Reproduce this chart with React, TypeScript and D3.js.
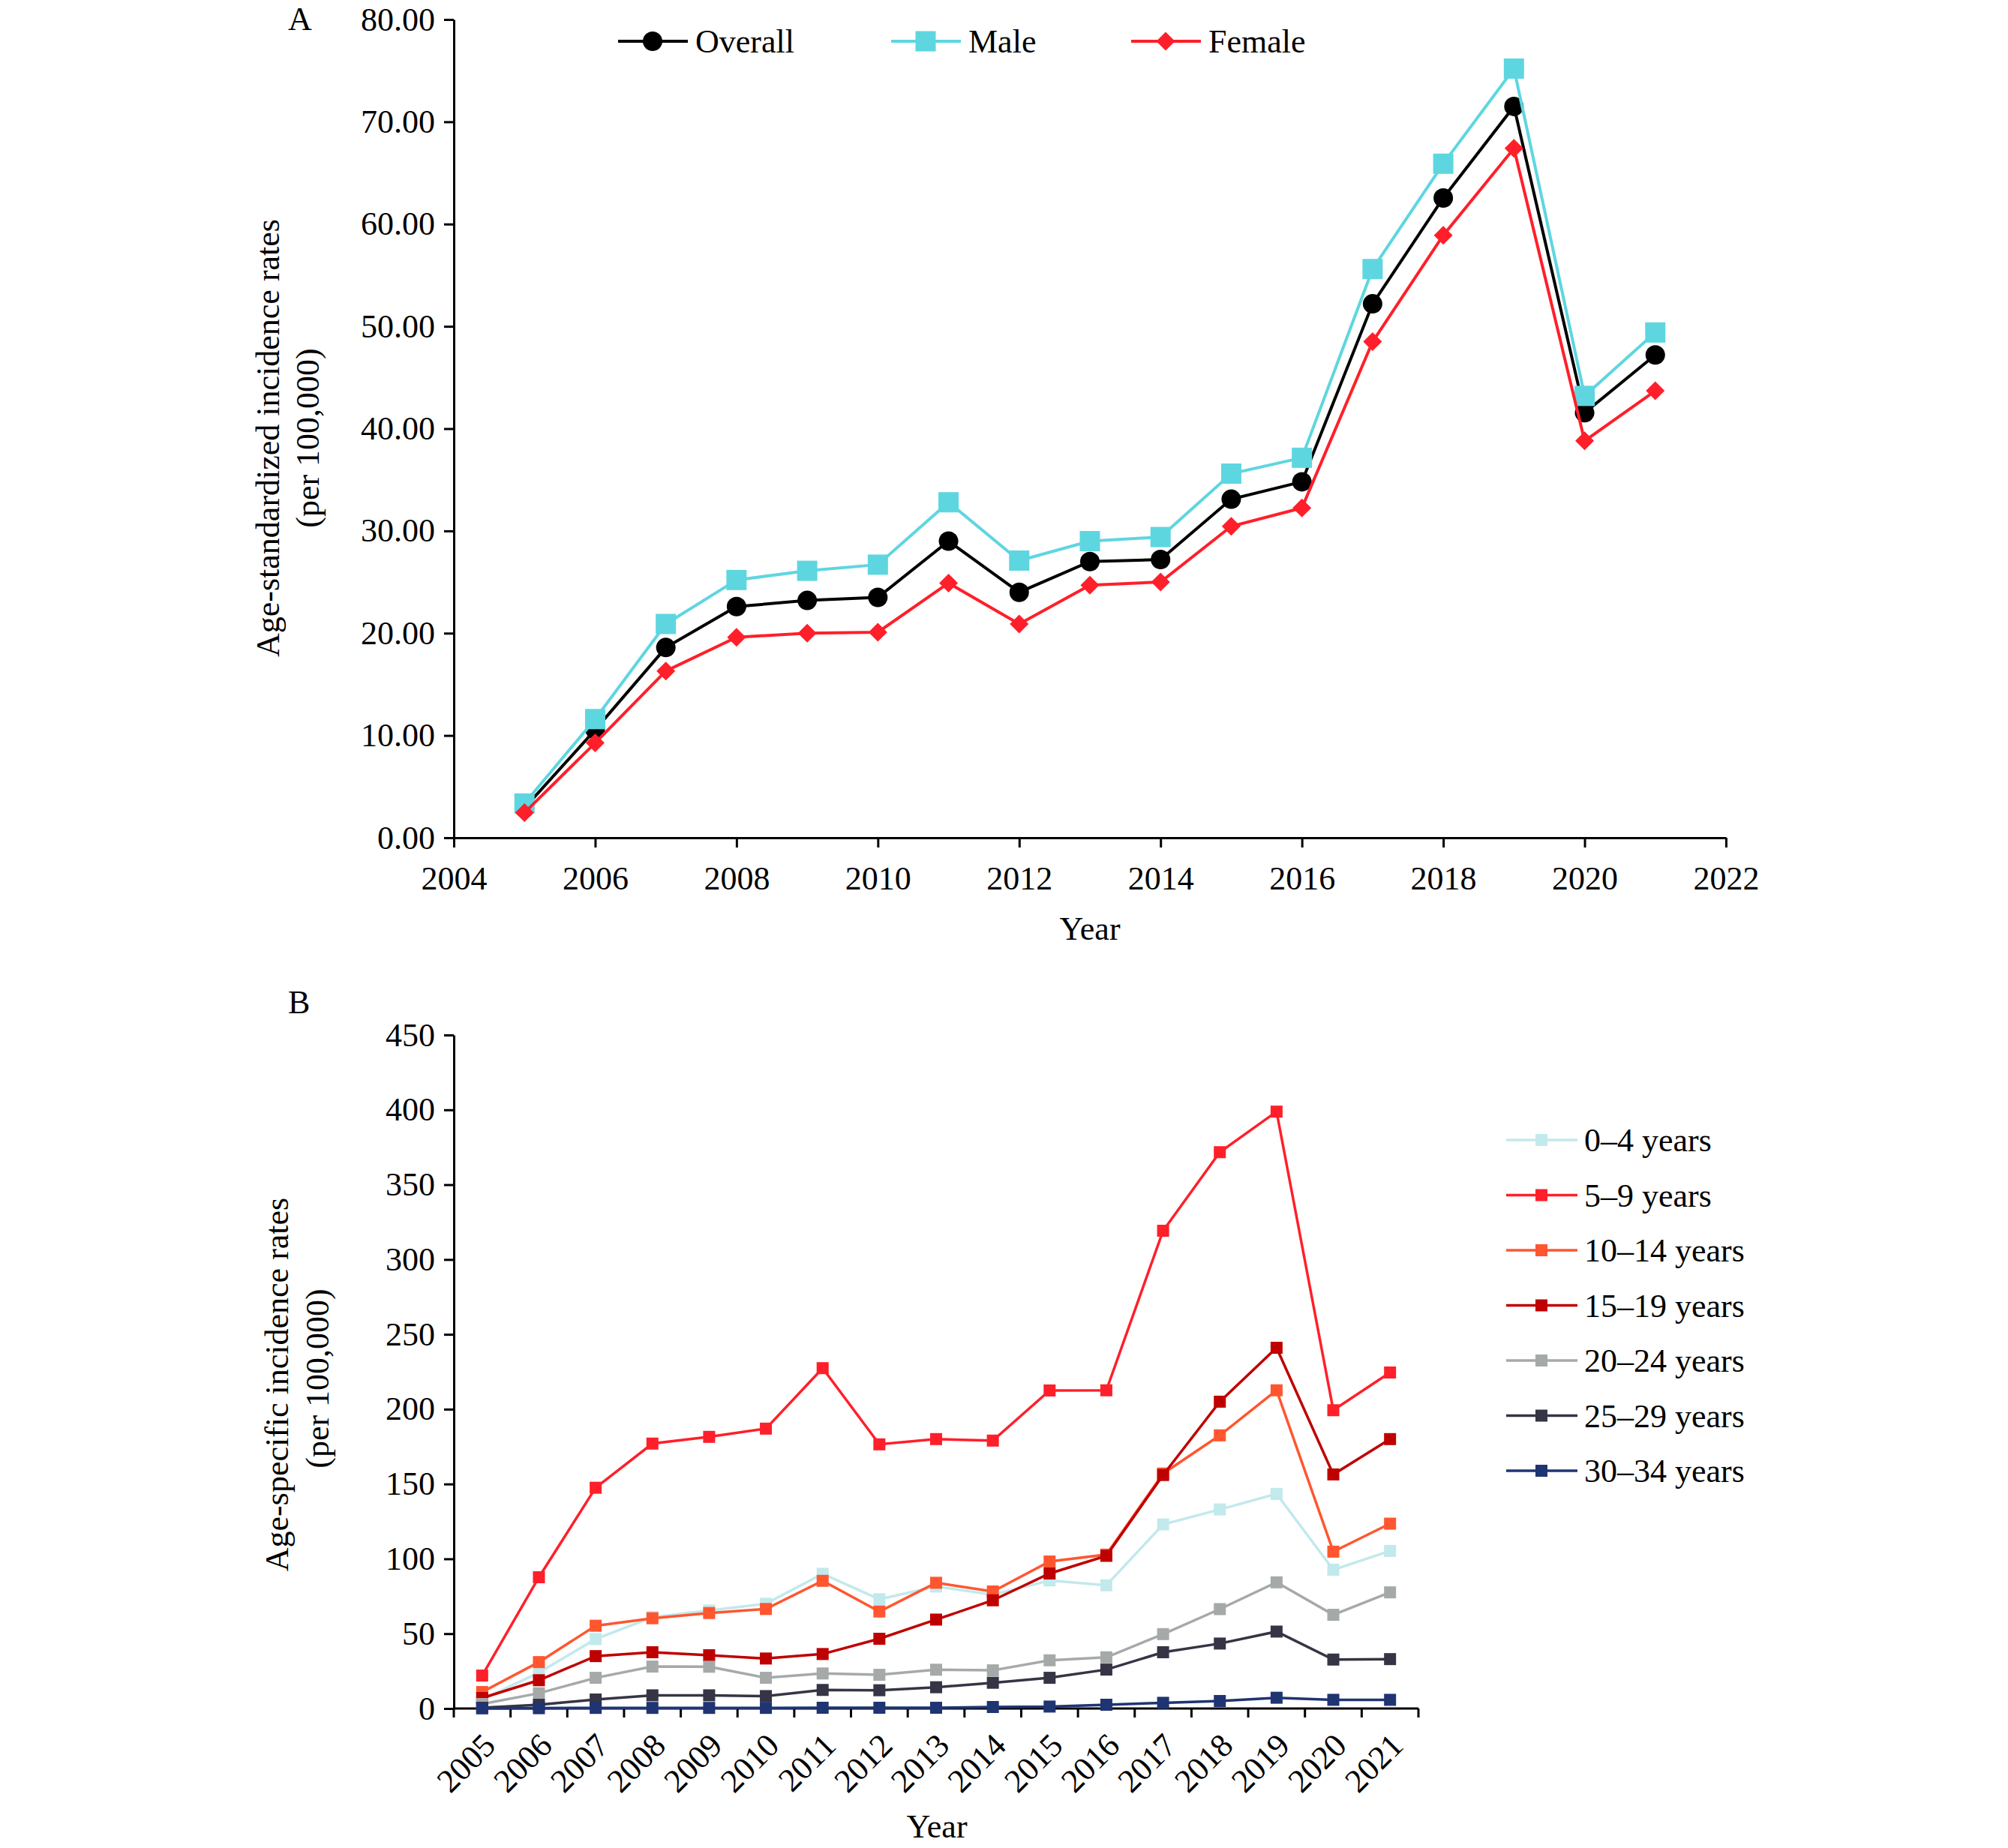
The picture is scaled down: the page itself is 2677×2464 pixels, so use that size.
import { useEffect, useRef } from 'react';
import * as d3 from 'd3';

// Panel A: age-standardized incidence rates by sex
const years = [2005, 2006, 2007, 2008, 2009, 2010, 2011, 2012, 2013, 2014, 2015, 2016, 2017, 2018, 2019, 2020, 2021];
const overallRates = [2.9, 10.55, 18.6, 22.6, 23.2, 23.5, 29.0, 24.0, 27.0, 27.2, 33.1, 34.8, 52.2, 62.55, 71.5, 41.55, 47.2];
const maleRates = [3.35, 11.6, 20.9, 25.2, 26.1, 26.7, 32.8, 27.1, 29.0, 29.4, 35.6, 37.15, 55.6, 65.9, 75.2, 43.2, 49.4];
const femaleRates = [2.45, 9.27, 16.3, 19.6, 20.0, 20.1, 24.9, 20.9, 24.7, 25.0, 30.45, 32.25, 48.5, 58.9, 67.4, 38.8, 43.7];
const sexLabels = ['Overall', 'Male', 'Female'];

const yearTicksA = [2004, 2006, 2008, 2010, 2012, 2014, 2016, 2018, 2020, 2022];
const rateTicksA = [0, 10, 20, 30, 40, 50, 60, 70, 80];

// Panel B: age-specific incidence rates
const ageGroups = ['0–4 years', '5–9 years', '10–14 years', '15–19 years', '20–24 years', '25–29 years', '30–34 years'];
const age0to4 = [6, 24, 46.4, 61, 65.5, 70, 90, 73, 81.5, 76, 85.6, 82.3, 123, 133, 143.4, 92.7, 105.3];
const age5to9 = [22, 87.7, 147.5, 177, 181.5, 187, 227.4, 176.5, 180, 179, 212.5, 212.6, 319.2, 371.7, 398.8, 199.3, 224.5];
const age10to14 = [11, 31, 55.3, 60.3, 63.8, 66.5, 85.3, 64.8, 84, 78.2, 98.2, 102.8, 157, 182.5, 212.6, 104.8, 123.5];
const age15to19 = [7, 18.9, 35, 37.6, 35.6, 33.4, 36.4, 46.6, 59.4, 72.3, 90.2, 102, 156, 205, 241, 156.4, 180];
const age20to24 = [3, 10.2, 20.5, 28, 27.9, 20.5, 23.4, 22.5, 25.9, 25.5, 32.2, 34.2, 49.7, 66.4, 84.3, 62.6, 77.6];
const age25to29 = [0.5, 2.5, 6, 8.8, 8.8, 8.3, 12.4, 12.2, 14.2, 17.2, 20.5, 26, 37.6, 43.4, 51.4, 32.7, 33];
const age30to34 = [0.1, 0.2, 0.4, 0.4, 0.4, 0.4, 0.5, 0.5, 0.5, 1, 1.3, 2.5, 3.8, 5, 7.2, 5.8, 5.8];

const rateTicksB = [0, 50, 100, 150, 200, 250, 300, 350, 400, 450];

const FONT = "'Liberation Serif', 'Times New Roman', serif";

export default function App() {
  const svgRef = useRef<SVGSVGElement>(null);

  useEffect(() => {
    if (!svgRef.current) return;
    const svg = d3.select(svgRef.current);
    svg.selectAll('*').remove();

    svg.append('rect').attr('width', 2677).attr('height', 2464).attr('fill', '#fff');

    const styleAxis = (g: d3.Selection<SVGGElement, unknown, null, undefined>) => {
      g.attr('font-family', FONT).attr('font-size', 44);
      g.selectAll('path, line').attr('stroke', '#000').attr('stroke-width', 3);
      g.selectAll('text').attr('fill', '#000');
    };

    // ---------- Panel A ----------
    const xA = d3.scaleLinear().domain([2004, 2022]).range([605, 2301]);
    const yA = d3.scaleLinear().domain([0, 80]).range([1117, 26]);

    const gxA = svg
      .append('g')
      .attr('transform', `translate(0,${yA(0)})`)
      .call(
        d3
          .axisBottom(xA)
          .tickValues(yearTicksA)
          .tickSize(13)
          .tickSizeOuter(0)
          .tickPadding(25)
          .tickFormat(d3.format('d'))
      );
    styleAxis(gxA);

    const gyA = svg
      .append('g')
      .attr('transform', `translate(${xA(2004)},0)`)
      .call(
        d3
          .axisLeft(yA)
          .tickValues(rateTicksA)
          .tickSize(13)
          .tickSizeOuter(0)
          .tickPadding(12)
          .tickFormat(d3.format('.2f'))
      );
    styleAxis(gyA);

    const seriesA = [
      { name: sexLabels[0], values: overallRates, color: '#000000', shape: 'circle' },
      { name: sexLabels[1], values: maleRates, color: '#5ed6e0', shape: 'square' },
      { name: sexLabels[2], values: femaleRates, color: '#ff1f2a', shape: 'diamond' },
    ];

    const drawMarkerA = (
      g: d3.Selection<SVGGElement, unknown, null, undefined>,
      shape: string,
      cx: number,
      cy: number,
      color: string
    ) => {
      if (shape === 'circle') {
        g.append('circle').attr('cx', cx).attr('cy', cy).attr('r', 13).attr('fill', color);
      } else if (shape === 'square') {
        g.append('rect')
          .attr('x', cx - 13.5)
          .attr('y', cy - 13.5)
          .attr('width', 27)
          .attr('height', 27)
          .attr('fill', color);
      } else {
        const h = 12.5;
        g.append('path')
          .attr('d', `M${cx},${cy - h}L${cx + h},${cy}L${cx},${cy + h}L${cx - h},${cy}Z`)
          .attr('fill', color);
      }
    };

    const lineA = d3
      .line<number>()
      .x((_, i) => xA(years[i]))
      .y((d) => yA(d));

    seriesA.forEach((s) => {
      const g = svg.append('g');
      g.append('path')
        .datum(s.values)
        .attr('fill', 'none')
        .attr('stroke', s.color)
        .attr('stroke-width', 4)
        .attr('d', lineA);
      s.values.forEach((v, i) => drawMarkerA(g, s.shape, xA(years[i]), yA(v), s.color));
    });

    // Legend A
    const legendAX = [824, 1188, 1508];
    seriesA.forEach((s, i) => {
      const g = svg.append('g');
      const x0 = legendAX[i];
      g.append('line')
        .attr('x1', x0)
        .attr('x2', x0 + 93)
        .attr('y1', 55)
        .attr('y2', 55)
        .attr('stroke', s.color)
        .attr('stroke-width', 4);
      drawMarkerA(g, s.shape, x0 + 46, 55, s.color);
      g.append('text')
        .attr('x', x0 + 103)
        .attr('y', 55)
        .attr('dy', '0.35em')
        .attr('font-family', FONT)
        .attr('font-size', 44)
        .text(s.name);
    });

    // Titles A
    svg.append('text')
      .attr('x', 384)
      .attr('y', 40)
      .attr('font-family', FONT)
      .attr('font-size', 44)
      .text('A');
    svg.append('text')
      .attr('x', xA(2013))
      .attr('y', 1253)
      .attr('text-anchor', 'middle')
      .attr('font-family', FONT)
      .attr('font-size', 44)
      .text('Year');
    const titleA = svg
      .append('g')
      .attr('font-family', FONT)
      .attr('font-size', 44)
      .attr('text-anchor', 'middle');
    titleA.append('text')
      .attr('transform', `translate(372,584) rotate(-90)`)
      .text('Age-standardized incidence rates');
    titleA.append('text')
      .attr('transform', `translate(425,584) rotate(-90)`)
      .text('(per 100,000)');

    // ---------- Panel B ----------
    const xB = d3.scaleBand<number>().domain(years).range([605, 1891]).padding(0);
    const yB = d3.scaleLinear().domain([0, 450]).range([2278, 1380]);
    const bw = xB.bandwidth();

    const gyB = svg
      .append('g')
      .attr('transform', `translate(605,0)`)
      .call(
        d3
          .axisLeft(yB)
          .tickValues(rateTicksB)
          .tickSize(13)
          .tickSizeOuter(0)
          .tickPadding(12)
          .tickFormat(d3.format('d'))
      );
    styleAxis(gyB);

    // X axis B: ticks at category boundaries, labels centred and slanted
    const gxB = svg.append('g');
    gxB.append('line')
      .attr('x1', 605)
      .attr('x2', 1891)
      .attr('y1', yB(0))
      .attr('y2', yB(0))
      .attr('stroke', '#000')
      .attr('stroke-width', 3);
    const boundaries = [...years.map((y) => xB(y) as number), 1891];
    gxB.selectAll('line.tick')
      .data(boundaries)
      .enter()
      .append('line')
      .attr('class', 'tick')
      .attr('x1', (d) => d)
      .attr('x2', (d) => d)
      .attr('y1', yB(0))
      .attr('y2', yB(0) + 12)
      .attr('stroke', '#000')
      .attr('stroke-width', 3);
    gxB.selectAll('text')
      .data(years)
      .enter()
      .append('text')
      .attr('transform', (d) => `translate(${(xB(d) as number) + bw / 2 + 20},${yB(0) + 52}) rotate(-45)`)
      .attr('text-anchor', 'end')
      .attr('font-family', FONT)
      .attr('font-size', 44)
      .text((d) => String(d));

    const seriesB = [
      { name: ageGroups[0], values: age0to4, color: '#c2e9ec' },
      { name: ageGroups[1], values: age5to9, color: '#ff1f2a' },
      { name: ageGroups[2], values: age10to14, color: '#ff5630' },
      { name: ageGroups[3], values: age15to19, color: '#bf0000' },
      { name: ageGroups[4], values: age20to24, color: '#a5aaa9' },
      { name: ageGroups[5], values: age25to29, color: '#353545' },
      { name: ageGroups[6], values: age30to34, color: '#1f3472' },
    ];

    const lineB = d3
      .line<number>()
      .x((_, i) => (xB(years[i]) as number) + bw / 2)
      .y((d) => yB(d));

    seriesB.forEach((s) => {
      const g = svg.append('g');
      g.append('path')
        .datum(s.values)
        .attr('fill', 'none')
        .attr('stroke', s.color)
        .attr('stroke-width', 3.5)
        .attr('d', lineB);
      g.selectAll('rect')
        .data(s.values)
        .enter()
        .append('rect')
        .attr('x', (_, i) => (xB(years[i]) as number) + bw / 2 - 8)
        .attr('y', (d) => yB(d) - 8)
        .attr('width', 16)
        .attr('height', 16)
        .attr('fill', s.color);
    });

    // Legend B
    seriesB.forEach((s, i) => {
      const y = 1520 + i * 73.5;
      const g = svg.append('g');
      g.append('line')
        .attr('x1', 2008)
        .attr('x2', 2103)
        .attr('y1', y)
        .attr('y2', y)
        .attr('stroke', s.color)
        .attr('stroke-width', 3.5);
      g.append('rect')
        .attr('x', 2047)
        .attr('y', y - 8)
        .attr('width', 16)
        .attr('height', 16)
        .attr('fill', s.color);
      g.append('text')
        .attr('x', 2112)
        .attr('y', y)
        .attr('dy', '0.35em')
        .attr('font-family', FONT)
        .attr('font-size', 44)
        .text(s.name);
    });

    // Titles B
    svg.append('text')
      .attr('x', 384)
      .attr('y', 1351)
      .attr('font-family', FONT)
      .attr('font-size', 44)
      .text('B');
    svg.append('text')
      .attr('x', 1249)
      .attr('y', 2450)
      .attr('text-anchor', 'middle')
      .attr('font-family', FONT)
      .attr('font-size', 44)
      .text('Year');
    const titleB = svg
      .append('g')
      .attr('font-family', FONT)
      .attr('font-size', 44)
      .attr('text-anchor', 'middle');
    titleB.append('text')
      .attr('transform', `translate(384,1846) rotate(-90)`)
      .text('Age-specific incidence rates');
    titleB.append('text')
      .attr('transform', `translate(438,1838) rotate(-90)`)
      .text('(per 100,000)');
  }, []);

  return (
    <svg
      ref={svgRef}
      width={2677}
      height={2464}
      style={{ position: 'absolute', left: 0, top: 0, background: '#fff' }}
    />
  );
}
